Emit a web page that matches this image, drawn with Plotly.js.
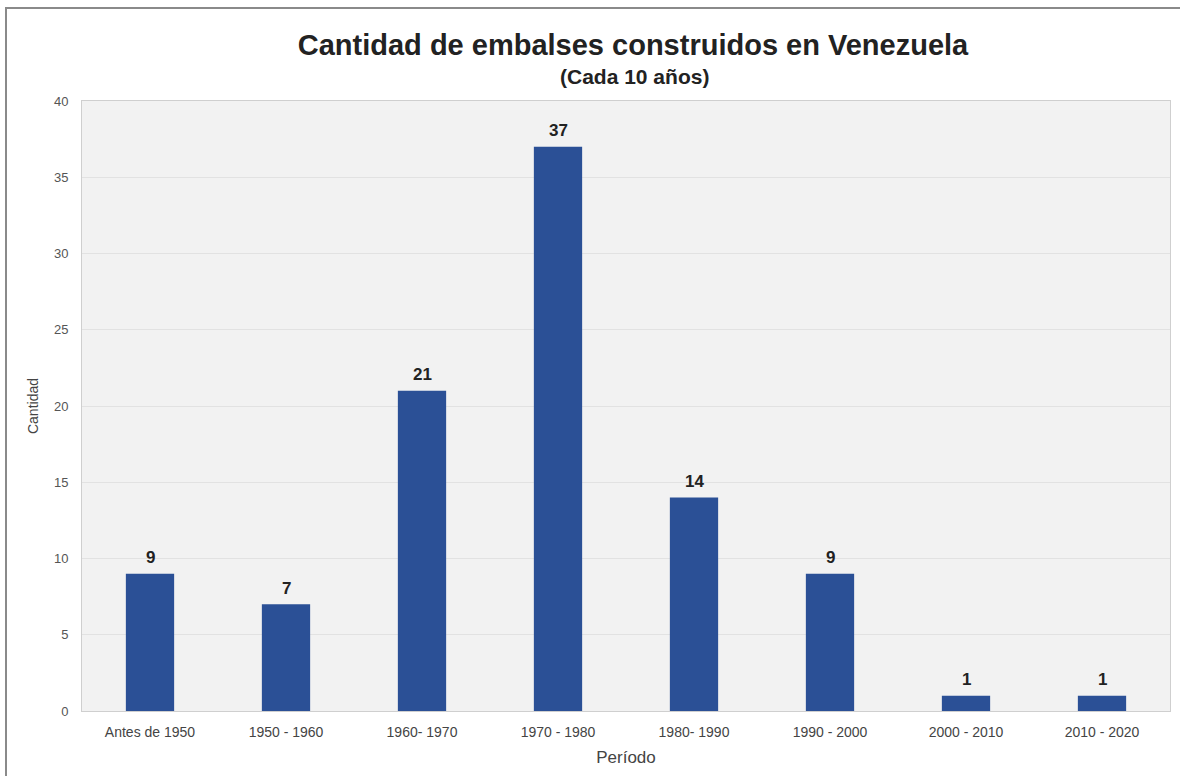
<!DOCTYPE html>
<html>
<head>
<meta charset="utf-8">
<script src="https://cdn.plot.ly/plotly-3.0.1.min.js"></script>
<style>
  html, body { margin: 0; padding: 0; background: #fff; }
  #wrap { position: relative; width: 1180px; height: 776px; overflow: hidden; }
  #frame { position: absolute; left: 5px; top: 7px; width: 1200px; height: 800px;
           border-left: 2px solid #8a8a8a; border-top: 2px solid #8a8a8a; pointer-events: none; }
  #chart { position: absolute; left: 0; top: 0; width: 1180px; height: 776px; }
</style>
</head>
<body>
<div id="wrap">
  <div id="chart"></div>
  <div id="frame"></div>
</div>
<script>
const periodos = ["Antes de 1950", "1950 - 1960", "1960- 1970", "1970 - 1980", "1980- 1990", "1990 - 2000", "2000 - 2010", "2010 - 2020"];
const cantidad = [9, 7, 21, 37, 14, 9, 1, 1];
const yTicks = [0, 5, 10, 15, 20, 25, 30, 35, 40];
const tituloPrincipal = "Cantidad de embalses construidos en Venezuela";
const subtitulo = "(Cada 10 años)";

const FONT = "Liberation Sans, Arial, sans-serif";

const trace = {
  type: "bar",
  x: periodos,
  y: cantidad,
  marker: { color: "#2b5096", line: { width: 0 } },
  hoverinfo: "x+y"
};

// value labels above each bar, built from the data arrays
const valueLabels = periodos.map((p, i) => ({
  x: p, y: cantidad[i], xref: "x", yref: "y",
  text: "<b>" + cantidad[i] + "</b>",
  showarrow: false, xanchor: "center", yanchor: "middle", yshift: 16,
  font: { family: FONT, size: 17, color: "#222" }
}));

const layout = {
  width: 1180,
  height: 776,
  margin: { l: 82, r: 10, t: 101, b: 65 },
  paper_bgcolor: "#ffffff",
  plot_bgcolor: "#f2f2f2",
  bargap: 0.645,
  showlegend: false,
  title: {
    text: "<b>" + tituloPrincipal + "</b>",
    font: { family: FONT, size: 29, color: "#222" },
    x: 633 / 1180, xanchor: "center",
    y: 1 - 45 / 776, yanchor: "middle"
  },
  annotations: [{
    text: "<b>" + subtitulo + "</b>",
    xref: "paper", yref: "paper",
    x: (634 - 82) / 1088, y: 1 + (101 - 76) / 610,
    xanchor: "center", yanchor: "middle",
    showarrow: false,
    font: { family: FONT, size: 21, color: "#222" }
  }].concat(valueLabels),
  xaxis: {
    type: "category",
    tickfont: { family: FONT, size: 14, color: "#444" },
    title: { text: "Período", font: { family: FONT, size: 17, color: "#444" }, standoff: 12 },
    showline: true, linecolor: "#cfcfcf", linewidth: 1, mirror: true,
    ticks: "", showgrid: false, ticklabelstandoff: 8
  },
  yaxis: {
    range: [0, 40],
    tickvals: yTicks,
    tickfont: { family: FONT, size: 13, color: "#555" },
    title: { text: "Cantidad", font: { family: FONT, size: 14, color: "#444" }, standoff: 12 },
    showgrid: true, gridcolor: "#e2e2e2", gridwidth: 1,
    showline: true, linecolor: "#cfcfcf", linewidth: 1, mirror: true,
    zeroline: false, ticks: "", ticklabelstandoff: 10
  }
};

Plotly.newPlot("chart", [trace], layout, { displayModeBar: false, staticPlot: true });
</script>
</body>
</html>
